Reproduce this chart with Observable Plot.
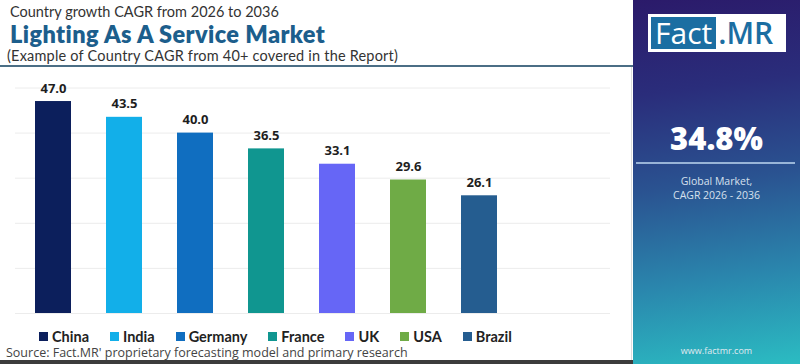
<!DOCTYPE html>
<html>
<head>
<meta charset="utf-8">
<script src="https://cdn.jsdelivr.net/npm/d3@7"></script>
<script src="https://cdn.jsdelivr.net/npm/@observablehq/plot@0.6"></script>
<style>
  html, body { margin: 0; padding: 0; }
  body { width: 800px; height: 364px; overflow: hidden; background: #fff; font-family: "Open Sans", sans-serif; position: relative; }
  .abs { position: absolute; white-space: nowrap; }
  #kicker { left: 10px; top: 3px; font-family: Lato, sans-serif; font-size: 14.5px; line-height: 1.2; color: #333; }
  #title { left: 10px; top: 20px; font-family: Lato, sans-serif; font-size: 23.5px; line-height: 1.2; font-weight: 800; color: #1c5e8c; letter-spacing: 0.4px; }
  #subtitle { left: 7px; top: 46.5px; font-family: Lato, sans-serif; font-size: 14.5px; line-height: 1.2; color: #333; letter-spacing: 0.2px; }
  #rule { left: 0; top: 65px; width: 633px; height: 2px; background: #4b6e85; }
  #chart { left: 0; top: 68px; }
  #legend { left: 39px; top: 329px; display: flex; gap: 21px; font-family: Lato, sans-serif; font-size: 14.5px; line-height: 15px; font-weight: 700; color: #222; }
  #legend .item { display: flex; align-items: center; gap: 4px; }
  #legend .sw { width: 9px; height: 9px; display: inline-block; }
  #source { left: 6px; top: 346px; font-size: 12.5px; line-height: 13px; color: #444; }
  #bottombar { left: 0; top: 360px; width: 633px; height: 4px; background: #3c3c3c; }
  #leftborder { left: 631px; top: 67px; width: 1px; height: 293px; background: #ddd; }
  #panel { left: 633px; top: 0; width: 167px; height: 364px;
    background: linear-gradient(172deg, #2b1a6a 0%, #2a2d7b 25%, #2a5391 50%, #2a86ad 75%, #2bbcc2 100%); }
  #logo { left: 648px; top: 14px; width: 138px; height: 38px; background: #fff; display: flex; align-items: stretch; box-sizing: border-box; padding: 3px; }
  #logo .fact { background: #1b6ea2; color: #fff; font-size: 30px; font-weight: 400; line-height: 32px; padding: 0 4px; }
  #logo .mr { color: #1b6ea2; font-size: 30px; font-weight: 600; line-height: 32px; padding-left: 2px; }
  #big { left: 633px; width: 167px; top: 119px; line-height: 38px; text-align: center; font-size: 31px; font-weight: 800; color: #fff; }
  #prule { left: 636px; top: 162px; width: 159px; height: 2px; background: rgba(190, 215, 240, 0.75); }
  .glob { left: 633px; width: 167px; text-align: center; font-size: 10.5px; line-height: 12px; color: #d6e0ee; }
  #url { left: 633px; width: 167px; top: 345px; line-height: 11px; text-align: center; font-size: 9px; color: #e0eaf0; }
</style>
</head>
<body>
<div id="kicker" class="abs">Country growth CAGR from 2026 to 2036</div>
<div id="title" class="abs">Lighting As A Service Market</div>
<div id="subtitle" class="abs">(Example of Country CAGR from 40+ covered in the Report)</div>
<div id="rule" class="abs"></div>
<div id="leftborder" class="abs"></div>
<div id="chart" class="abs"></div>
<div id="legend" class="abs"></div>
<div id="source" class="abs">Source: Fact.MR' proprietary forecasting model and primary research</div>
<div id="bottombar" class="abs"></div>
<div id="panel" class="abs"></div>
<div id="logo" class="abs"><span class="fact">Fact</span><span class="mr">.MR</span></div>
<div id="big" class="abs">34.8%</div>
<div id="prule" class="abs"></div>
<div class="abs glob" style="top:175px">Global Market,</div>
<div class="abs glob" style="top:189px">CAGR 2026 - 2036</div>
<div id="url" class="abs">www.factmr.com</div>
<script>
const countries = ["China", "India", "Germany", "France", "UK", "USA", "Brazil"];
const cagr = [47.0, 43.5, 40.0, 36.5, 33.1, 29.6, 26.1];
const colors = ["#0c1f5c", "#12afe9", "#106ec0", "#109690", "#6666f6", "#6fab46", "#255d90"];
const gridTicks = [0, 10, 20, 30, 40, 50];

const data = countries.map((c, i) => ({country: c, value: cagr[i]}));

const chart = Plot.plot({
  width: 630,
  height: 250,
  marginTop: 19.5,
  marginBottom: 5,
  marginLeft: 15,
  marginRight: 20,
  x: {domain: countries, range: [-1, 533], padding: 0.495, axis: null},
  y: {domain: [0, 50], axis: null},
  color: {domain: countries, range: colors},
  style: {fontFamily: "'Open Sans', sans-serif", background: "transparent"},
  marks: [
    Plot.ruleY(gridTicks, {stroke: "#ececec", strokeWidth: 1}),
    Plot.barY(data, {x: "country", y: "value", fill: "country"}),
    Plot.text(data, {x: "country", y: "value", text: d => d.value.toFixed(1), dy: -13,
      fontSize: 13, fontWeight: 700, fill: "#1e1e1e"})
  ]
});
document.getElementById("chart").appendChild(chart);

const legend = document.getElementById("legend");
countries.forEach((c, i) => {
  const item = document.createElement("span");
  item.className = "item";
  const sw = document.createElement("span");
  sw.className = "sw";
  sw.style.background = colors[i];
  const label = document.createElement("span");
  label.textContent = c;
  item.appendChild(sw);
  item.appendChild(label);
  legend.appendChild(item);
});
</script>
</body>
</html>
